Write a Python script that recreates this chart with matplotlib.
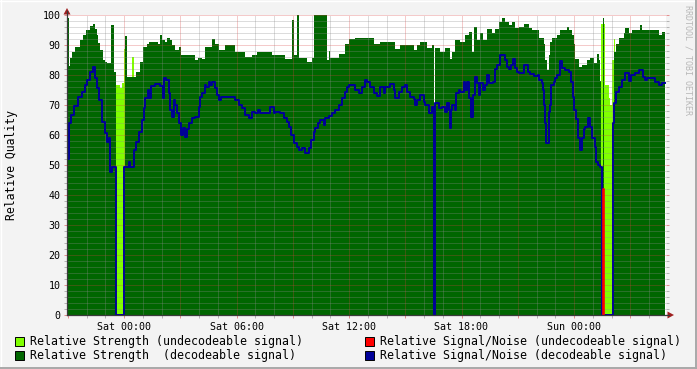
import numpy as np
import matplotlib
matplotlib.use("Agg")
import matplotlib.pyplot as plt
from matplotlib.patches import Rectangle, Polygon
from matplotlib.lines import Line2D

# ---------------- data (time as RRD step index, 1 step = 192 s) ----------------
STEP_SECONDS = 192
STEPS_BEFORE_SAT = 57          # graph starts 57 steps before Sat 00:00
END_STEP = 598                 # last sample end

# Relative strength, decodeable signal (step start index, value)
str_dec_t = [0, 2, 3, 5, 8, 13, 16, 19, 23, 26, 28, 30, 31, 33, 36, 38, 40, 44, 47,
             49, 58, 60, 69, 73, 76, 80, 82, 91, 93, 95, 98, 100, 103, 105, 108, 112,
             114, 128, 131, 135, 138, 145, 148, 152, 158, 168, 178, 185, 190, 205, 218,
             225, 227, 230, 232, 240, 245, 247, 260, 262, 263, 272, 278, 282, 288, 295,
             307, 313, 328, 333, 347, 350, 353, 360, 365, 367, 368, 373, 378, 383, 385,
             388, 393, 398, 402, 405, 407, 410, 413, 416, 420, 425, 428, 432, 435, 438,
             442, 445, 448, 452, 457, 462, 465, 472, 477, 478, 480, 482, 483, 485, 490,
             493, 500, 502, 505, 507, 508, 512, 515, 520, 523, 527, 530, 532, 533, 534,
             536, 537, 547, 549, 552, 557, 558, 562, 565, 573, 575, 592, 595]
str_dec_v = [99, 83, 85.6, 87.8, 89.4, 91.7, 93.3, 95, 96.3, 97, 95.5, 93.3, 90.6, 88.3,
             85, 84.4, 84, 96.7, 81, 0, 93, 79.4, 81, 84.4, 89.4, 90.5, 91, 90.5, 93.3,
             91.7, 91.1, 92.2, 91.7, 90, 88.3, 89.4, 86.7, 85, 85.6, 85.4, 89.4, 91.9,
             90.5, 88.3, 90, 87.8, 86.1, 86.7, 87.8, 86.7, 85.2, 98.3, 86.7, 100, 85.6,
             84.4, 85.6, 100, 85, 88, 85.6, 87, 90.5, 91.9, 92.2, 92.2, 90.5, 91, 88.7,
             90, 88.3, 90, 91.1, 88.9, 90, 0, 88.9, 87.8, 88.9, 85.4, 87.8, 91.7, 91.1,
             93.3, 94.4, 87.8, 96.1, 91.7, 93.9, 91.7, 95.2, 93.9, 95.5, 97.8, 98.9,
             97.8, 96.7, 97.8, 95.6, 96.1, 97, 95.6, 95, 92.2, 90.5, 85, 81.7, 86.7,
             91.1, 92.2, 93.3, 95, 96, 95, 93.3, 90.5, 85.5, 82.8, 83.3, 85, 85.6, 84,
             87, 85, 78, 0, 99, 0, 87.8, 90.5, 92.2, 93.9, 95.6, 93.9, 95, 96.7, 95,
             93.3, 94.4]

# Relative strength, undecodeable signal
str_und_t = [0, 49, 53, 55, 57, 58, 65, 67, 534, 536, 538, 542, 543, 545, 547, 548]
str_und_v = [0, 76.7, 75.7, 77.2, 88.6, 0, 86, 0, 97, 97, 76.7, 72.2, 70, 85, 91.9, 0]

# Relative signal/noise, decodeable signal
snr_dec_t = [0, 2, 4, 7, 11, 15, 18, 20, 23, 26, 28, 30, 32, 35, 38, 40, 42, 43, 45,
             49, 57, 62, 63, 67, 69, 72, 75, 77, 78, 81, 82, 84, 88, 93, 96, 97, 99,
             102, 103, 105, 107, 108, 110, 112, 114, 116, 118, 120, 122, 125, 128, 132,
             133, 135, 138, 139, 142, 143, 145, 148, 150, 152, 154, 160, 168, 172, 175,
             178, 182, 185, 188, 191, 193, 203, 207, 208, 213, 217, 220, 222, 224, 227,
             230, 232, 235, 238, 242, 244, 247, 248, 251, 253, 257, 258, 262, 265, 268,
             272, 275, 278, 280, 282, 288, 292, 295, 298, 300, 303, 307, 310, 313, 317,
             318, 323, 327, 328, 332, 335, 338, 340, 343, 347, 348, 350, 353, 357, 358,
             362, 365, 367, 368, 372, 375, 378, 380, 382, 383, 384, 385, 388, 389, 392,
             393, 397, 398, 400, 402, 404, 406, 408, 410, 412, 413, 416, 418, 420, 422,
             426, 428, 430, 433, 438, 440, 442, 444, 446, 448, 450, 452, 457, 461, 463,
             467, 471, 472, 475, 476, 477, 478, 479, 482, 483, 484, 487, 488, 490, 493,
             495, 498, 502, 504, 506, 507, 509, 511, 513, 515, 517, 518, 521, 523, 525,
             528, 529, 531, 533, 535, 546, 547, 549, 552, 555, 558, 562, 564, 568, 572,
             576, 578, 580, 588, 592, 595]
snr_dec_v = [52, 64, 66.7, 69.7, 72.8, 74.4, 76.7, 78.3, 81.1, 82.8, 78.9, 75.6, 71.7,
             64.5, 60.6, 57.8, 59, 47.8, 49.4, 0, 49.4, 50.9, 49.4, 55, 57.8, 61.1, 65,
             68.9, 72.2, 75, 72.2, 76.3, 77, 76.3, 72.2, 78.9, 78.3, 73.9, 68.3, 66.1,
             71.7, 70, 67.2, 63.9, 60, 62.2, 59.4, 62, 63.9, 65.6, 66, 69.4, 72.8, 73.9,
             76.7, 76.1, 77.8, 76.7, 77.8, 75.6, 73.3, 71.7, 72.8, 72.8, 71.7, 70, 68.9,
             66.7, 65.6, 67.8, 67.2, 68.5, 67.2, 69.4, 67.2, 67.8, 67.2, 65.6, 64.4, 62.8,
             60, 57.2, 56.1, 55, 55.6, 53.9, 55.6, 58.3, 61.1, 62.2, 63.9, 65, 63.3, 65.6,
             66.3, 67.2, 68.3, 70, 72.2, 74.4, 76.1, 76.7, 75, 73.9, 76.1, 78.3, 77.8,
             76.1, 73.9, 73, 76.1, 73.9, 76.1, 77, 75, 72.2, 74.4, 76.1, 76.8, 74.4, 72.8,
             71.9, 70, 71.7, 73.3, 71.1, 70, 67.2, 69.4, 0, 70.8, 68.9, 69.4, 67.8, 70.6,
             68.3, 62.2, 68.3, 70, 68.3, 73.9, 75, 74.4, 77.8, 75, 77.8, 72.2, 66.1, 73.3,
             79.4, 77.2, 73.3, 77.2, 75, 76.7, 80, 77.4, 77.8, 81.9, 83.3, 86.7, 85, 82.8,
             81.9, 83.3, 85.5, 82.2, 81.1, 80.8, 83.3, 81.1, 80.5, 79.7, 80, 78.3, 77.4,
             75, 70, 63.9, 57.2, 67.8, 70, 76.7, 77.8, 78.9, 80, 84.8, 82.2, 81.7, 81.1,
             77.8, 72.8, 68.3, 65.2, 58.9, 55, 58.9, 61.9, 62.8, 65.6, 62.8, 58.9, 56.1,
             51.1, 50, 49.4, 0, 63.9, 70.6, 74.4, 76.1, 78.3, 80.8, 78.1, 80, 80.8, 81.7,
             79.4, 78.3, 78.9, 77.8, 76.7, 77.2]

# Relative signal/noise, undecodeable signal (single spike while undecodeable)
snr_und_t = [536, 536, 537]
snr_und_v = [0, 42, 0]

tick_hours = [0, 6, 12, 18, 24]
tick_labels = ["Sat 00:00", "Sat 06:00", "Sat 12:00", "Sat 18:00", "Sun 00:00"]

legend_items = [
    ("Relative Strength (undecodeable signal)", "#80FF00"),
    ("Relative Signal/Noise (undecodeable signal)", "#FF0000"),
    ("Relative Strength  (decodeable signal)", "#006600"),
    ("Relative Signal/Noise (decodeable signal)", "#000099"),
]

# ---------------- helpers ----------------
W, H = 697, 369


def hours(steps):
    return (np.asarray(steps, float) - STEPS_BEFORE_SAT) * STEP_SECONDS / 3600.0


def fx(x):
    return x / W


def fy(y):
    return 1 - y / H


def step_series(t, v, end):
    tt = np.append(hours(t), hours([end])[0])
    vv = np.append(np.asarray(v, float), v[-1])
    return tt, vv


mono = "DejaVu Sans Mono"
BG = "#F3F3F3"

fig = plt.figure(figsize=(W / 100, H / 100), dpi=100, facecolor=BG)
ax = fig.add_axes([fx(67), fy(315), fx(666) - fx(67), fy(15) - fy(315)])
ax.set_facecolor("white")

x0, x1 = hours([0])[0], hours([599])[0]
ax.set_xlim(x0, x1)
ax.set_ylim(0, 100)

# areas
t, v = step_series(str_und_t, str_und_v, END_STEP)
ax.fill_between(t, 0, v, step="post", color="#80FF00", lw=0, zorder=1)
t, v = step_series(str_dec_t, str_dec_v, END_STEP)
ax.fill_between(t, 0, v, step="post", color="#006600", lw=0, zorder=2)

# grid
GRID = (0.55, 0.55, 0.55, 0.6)
MGRID = (0.85, 0.25, 0.25, 0.55)
dot = (0, (1, 1))
for h in np.arange(-2, 29, 1):
    ax.axvline(h, color=MGRID if h % 3 == 0 else GRID, lw=0.72, ls=dot, zorder=3)
for yv in np.arange(2, 101, 2):
    ax.axhline(yv, color=MGRID if yv % 10 == 0 else GRID, lw=0.72, ls=dot, zorder=3)

# lines
t, v = step_series(snr_dec_t, snr_dec_v, END_STEP)
ax.plot(t, v, drawstyle="steps-post", color="#000099", lw=1.4, zorder=4)
ax.plot(hours(snr_und_t), snr_und_v, drawstyle="steps-post", color="#FF0000",
        lw=1.2, zorder=5)

# ticks
ax.set_xticks(np.arange(-3, 29, 3))
ax.set_xticks(np.arange(-2, 29, 1), minor=True)
lab = dict(zip(tick_hours, tick_labels))
ax.set_xticklabels([lab.get(int(h), "") for h in np.arange(-3, 29, 3)])
ax.set_yticks(np.arange(0, 101, 10))
ax.set_yticks(np.arange(0, 101, 2), minor=True)
ax.set_yticklabels([str(i) for i in range(0, 101, 10)])
ax.tick_params(axis="both", which="major", direction="out", length=2.2, width=0.72,
               color=MGRID, labelsize=7.2, pad=2.5)
ax.tick_params(axis="both", which="minor", direction="out", length=2.2, width=0.72,
               color=GRID)
ax.tick_params(axis="y", which="both", right=True)
for lbl in ax.get_xticklabels() + ax.get_yticklabels():
    lbl.set_fontfamily(mono)
for s in ax.spines.values():
    s.set_visible(False)

# axis lines and arrows
AX = "#3A3A3A"
ARROW = "#A02020"
fig.add_artist(Line2D([fx(67), fx(669)], [fy(315), fy(315)], color=AX, lw=0.9))
fig.add_artist(Line2D([fx(67), fx(67)], [fy(315), fy(11)], color=AX, lw=0.9))
fig.add_artist(Polygon([(fx(63.5), fy(14.5)), (fx(70.5), fy(14.5)), (fx(67), fy(8))],
                       closed=True, color=ARROW, lw=0))
fig.add_artist(Polygon([(fx(667.5), fy(311.5)), (fx(667.5), fy(318.5)), (fx(674), fy(315))],
                       closed=True, color=ARROW, lw=0))

# y label
fig.text(fx(12), fy(165), "Relative Quality", rotation=90, ha="center", va="center",
         fontsize=8.3, family=mono)

# watermark
fig.text(fx(688), fy(5), "RRDTOOL / TOBI OETIKER", rotation=-90, ha="center", va="top",
         fontsize=6, family=mono, color="#B8B8B8")

# legend
pos = [(15, 341), (365, 341), (15, 355), (365, 355)]
for (label, col), (lx, ly) in zip(legend_items, pos):
    fig.add_artist(Rectangle((fx(lx), fy(ly + 4.5)), fx(9), 9 / H, facecolor=col,
                             edgecolor="black", lw=0.7))
    fig.text(fx(lx + 15), fy(ly), label, ha="left", va="center", fontsize=8.35,
             family=mono)

# frame shading
fig.add_artist(Line2D([0, 1], [fy(0.5), fy(0.5)], color="#FFFFFF", lw=1))
fig.add_artist(Line2D([fx(0.5), fx(0.5)], [0, 1], color="#FFFFFF", lw=1))
fig.add_artist(Line2D([0, 1], [fy(368), fy(368)], color="#A8A8A8", lw=1.4))
fig.add_artist(Line2D([fx(696), fx(696)], [0, 1], color="#A8A8A8", lw=1.4))

fig.savefig("out.png", dpi=100, facecolor=BG)
